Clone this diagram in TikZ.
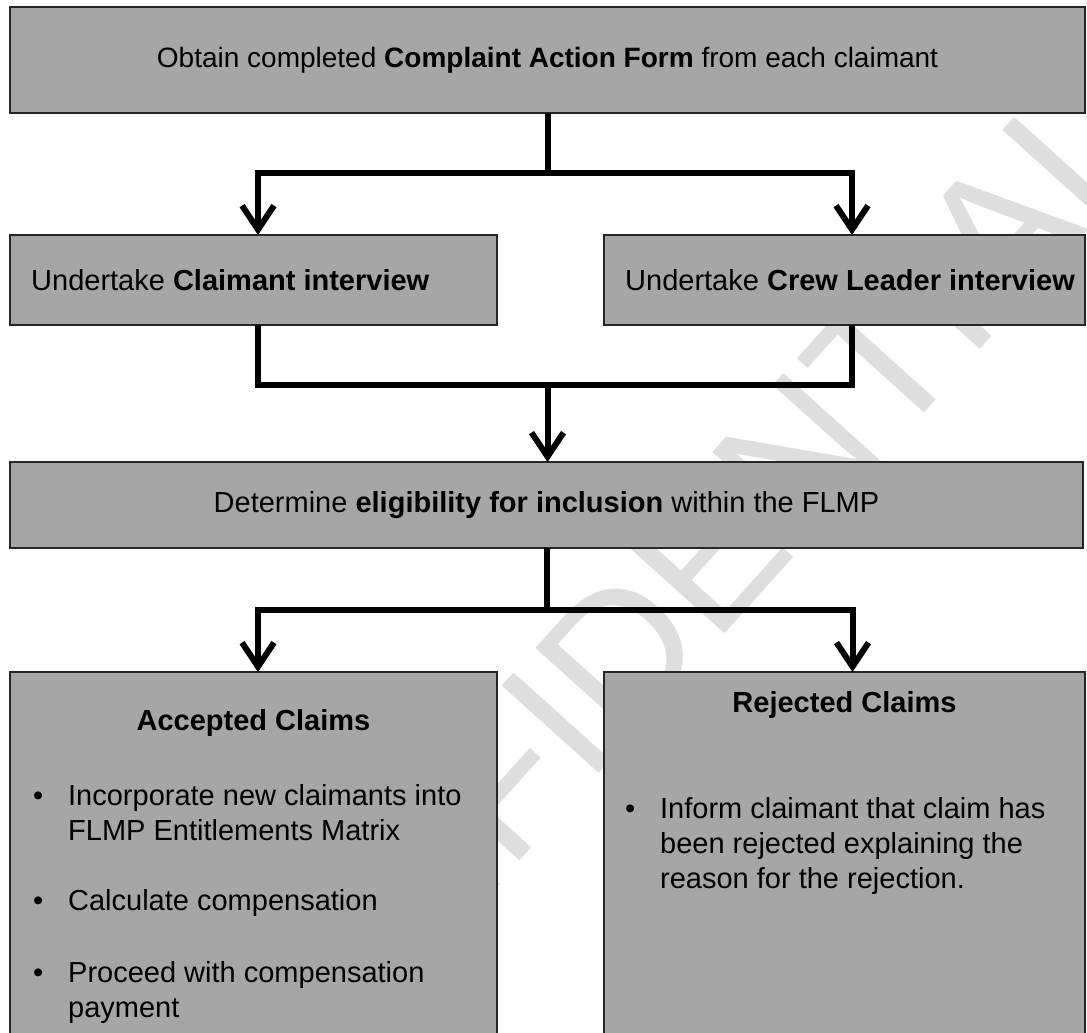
\documentclass[tikz,border=0pt]{standalone}
\usepackage{fontspec}
\setmainfont{Liberation Sans}
\usepackage{xcolor}
\usetikzlibrary{arrows.meta, positioning}
\definecolor{boxgray}{HTML}{A6A6A6}
\definecolor{wmgray}{HTML}{DEDEDE}

\begin{document}
\begin{tikzpicture}[
    x=1pt, y=1pt,
    box/.style={rectangle, draw=black!85, line width=1.6pt, fill=boxgray, inner sep=0pt, outer sep=0pt, align=center, font=\fontsize{29}{35}\selectfont},
    boxlbl/.style={anchor=west, xshift=21pt, inner sep=0pt, font=\fontsize{29}{35}\selectfont},
    head/.style={inner sep=0pt, font=\fontsize{29}{35}\selectfont\bfseries},
    item/.style={inner sep=0pt, anchor=north west, align=left, font=\fontsize{29}{35}\selectfont},
    conn/.style={line width=6pt},
    arr/.style={-{Straight Barb[length=24pt, width=32pt]}, line width=6pt},
    wmark/.style={text=wmgray, rotate=48, inner sep=0pt, font=\fontsize{190}{190}\selectfont},
]
\path[use as bounding box, clip] (0,0) rectangle (1087,-1033);

% Watermark
\node[wmark] (wm) at (645,-625) {CONFIDENTIAL};

% Stage 1: form and interviews
\node[box, minimum width=1075pt, minimum height=106pt, font=\fontsize{28}{34}\selectfont] (form) at (547.5,-60) {Obtain completed \textbf{Complaint Action Form} from each claimant};
\node[box, minimum width=487pt, minimum height=90pt, below=122pt of form.south west, anchor=north west, label={[boxlbl]west:Undertake \textbf{Claimant interview}}] (claim) {};
\node[box, minimum width=481pt, minimum height=90pt, right=107pt of claim, label={[boxlbl]west:Undertake \textbf{Crew Leader interview}}] (crew) {};
\coordinate[below=60pt of form.south] (split);
\draw[conn] (form) -- (split);
\draw[arr] (split) -| ([xshift=4.5pt]claim.north);
\draw[arr] (split) -| ([xshift=7.5pt]crew.north);

% Stage 2: eligibility
\node[box, minimum width=1073pt, minimum height=86pt, below=137pt of claim.south west, anchor=north west] (elig) {Determine \textbf{eligibility for inclusion} within the FLMP};
\coordinate (merge) at ([yshift=-60pt]split |- claim.south);
\draw[conn] ([xshift=4.5pt]claim.south) |- (merge) -| ([xshift=7.5pt]crew.south);
\draw[arr] (merge) -- (merge |- elig.north);

% Stage 3: outcome
\node[box, minimum width=487pt, minimum height=380pt, below=124pt of elig.south west, anchor=north west] (acc) {};
\node[box, minimum width=481pt, minimum height=380pt, right=107pt of acc] (rej) {};
\coordinate (split2) at ([yshift=-62pt]elig.south);
\draw[conn] (elig) -- (split2);
\draw[arr] (split2) -| ([xshift=4.5pt]acc.north);
\draw[arr] (split2) -| ([xshift=8pt]rej.north);

\node[head, below=37pt of acc.north] (acchead) {Accepted Claims};
\node[item, below right=112pt and 23pt of acc.north west] (acc1) {\makebox[35pt][l]{\textbullet}Incorporate new claimants into\\\hspace*{35pt}FLMP Entitlements Matrix};
\node[item, below right=217pt and 23pt of acc.north west] (acc2) {\makebox[35pt][l]{\textbullet}Calculate compensation};
\node[item, below right=289pt and 23pt of acc.north west] (acc3) {\makebox[35pt][l]{\textbullet}Proceed with compensation\\\hspace*{35pt}payment};

\node[head, below=19pt of rej.north] (rejhead) {Rejected Claims};
\node[item, below right=125pt and 21pt of rej.north west] (rej1) {\makebox[35pt][l]{\textbullet}Inform claimant that claim has\\\hspace*{35pt}been rejected explaining the\\\hspace*{35pt}reason for the rejection.};

\end{tikzpicture}
\end{document}
